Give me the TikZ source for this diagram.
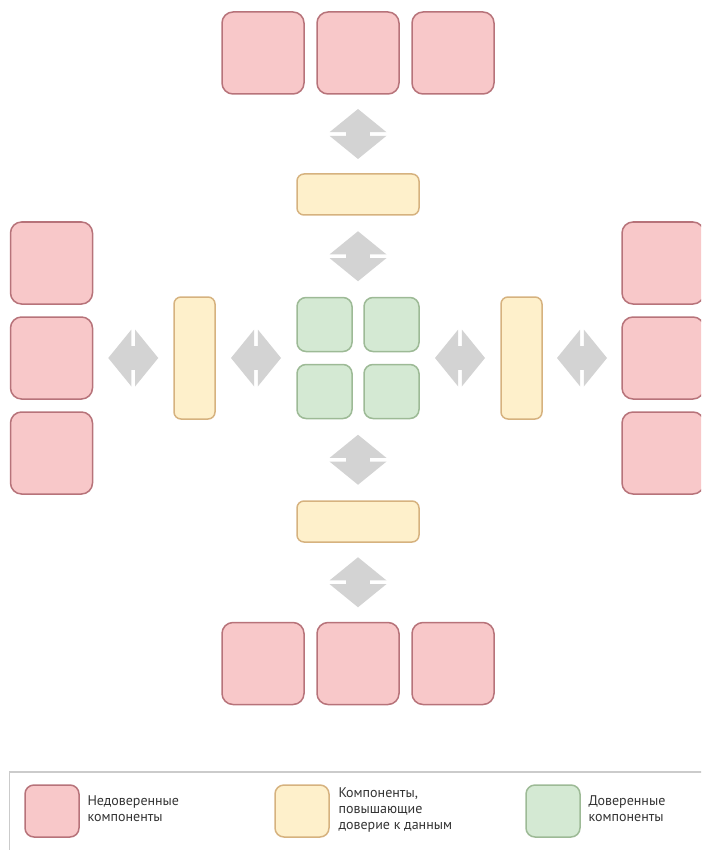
\documentclass[tikz,border=0pt]{standalone}
\usepackage{fontspec}
\setmainfont{PT Sans}
\usetikzlibrary{calc}

\definecolor{untrustfill}{HTML}{F8C8C9}
\definecolor{untrustline}{HTML}{B7737A}
\definecolor{boostfill}{HTML}{FEF0CB}
\definecolor{boostline}{HTML}{D6B27F}
\definecolor{trustfill}{HTML}{D4E9D3}
\definecolor{trustline}{HTML}{9DBA96}
\definecolor{arrowgrey}{HTML}{D3D3D3}
\definecolor{framegrey}{HTML}{CBCBCB}
\definecolor{legendtext}{HTML}{333333}

\tikzset{
  box/.style={rounded corners=11pt, line width=1.5pt, inner sep=0pt},
  untrusted/.style={box, fill=untrustfill, draw=untrustline,
    minimum width=82pt, minimum height=82pt},
  booster/.style={box, rounded corners=7pt, fill=boostfill, draw=boostline},
  trusted/.style={box, rounded corners=9pt, fill=trustfill, draw=trustline,
    minimum width=55pt, minimum height=54pt},
  legendbox/.style={box, rounded corners=9pt, minimum width=54pt, minimum height=52pt},
  legendlabel/.style={anchor=west, align=left, text=legendtext,
    font=\fontsize{14}{16}\selectfont},
  twoway/.pic={
    \fill[arrowgrey] (-25,0) -- (-1.8,28.5) -- (-1.8,-28.5) -- cycle;
    \fill[arrowgrey] (25,0) -- (1.8,28.5) -- (1.8,-28.5) -- cycle;
    \fill[arrowgrey] (-3,-12) rectangle (3,12);
  }
}

\begin{document}
\begin{tikzpicture}[x=1pt, y=-1pt]
  \useasboundingbox (0,0) rectangle (701,850);
  \clip (0,0) rectangle (701,850);

  % trusted core
  \node[trusted] (t1) at (324.5,324.5) {};
  \node[trusted] (t2) at (391.5,324.5) {};
  \node[trusted] (t3) at (324.5,391.5) {};
  \node[trusted] (t4) at (391.5,391.5) {};

  % trust boosters
  \node[booster, minimum width=122pt, minimum height=41pt] (bn) at (358,194.5) {};
  \node[booster, minimum width=122pt, minimum height=41pt] (bs) at (358,521.5) {};
  \node[booster, minimum width=41pt, minimum height=122pt] (bw) at (194.5,358) {};
  \node[booster, minimum width=41pt, minimum height=122pt] (be) at (521.5,358) {};

  % untrusted components
  \foreach \i/\p in {1/263,2/358,3/453} {
    \node[untrusted] (un\i) at (\p,53) {};
    \node[untrusted] (us\i) at (\p,663.5) {};
    \node[untrusted] (uw\i) at (51.5,\p) {};
    \node[untrusted] (ue\i) at (663,\p) {};
  }

  % two-way arrows
  \pic[rotate=90] at ($(un2.south)!0.5!(bn.north)$) {twoway};
  \pic[rotate=90] at ($(bn.south)!0.5!(t1.north -| bn)$) {twoway};
  \pic[rotate=90] at ($(t3.south -| bs)!0.5!(bs.north)$) {twoway};
  \pic[rotate=90] at ($(bs.south)!0.5!(us2.north)$) {twoway};
  \pic at ($(uw2.east)!0.5!(bw.west)$) {twoway};
  \pic at ($(bw.east)!0.5!(t1.west |- bw)$) {twoway};
  \pic at ($(t2.east |- be)!0.5!(be.west)$) {twoway};
  \pic at ($(be.east)!0.5!(ue2.west)$) {twoway};

  % legend
  \draw[framegrey, line width=1.5pt] (9.5,900) -- (9.5,772) -- (720,772);
  \node[legendbox, fill=untrustfill, draw=untrustline] (lu) at (52,811) {};
  \node[legendlabel] (lut) at (84,809) {Недоверенные\\компоненты};
  \node[legendlabel] (lbt) at (335,810) {Компоненты,\\повышающие\\доверие к данным};
  \node[legendbox, fill=boostfill, draw=boostline] (lb) at (302,811) {};
  \node[legendbox, fill=trustfill, draw=trustline] (lt) at (553,811) {};
  \node[legendlabel] (ltt) at (585,809) {Доверенные\\компоненты};
\end{tikzpicture}
\end{document}
